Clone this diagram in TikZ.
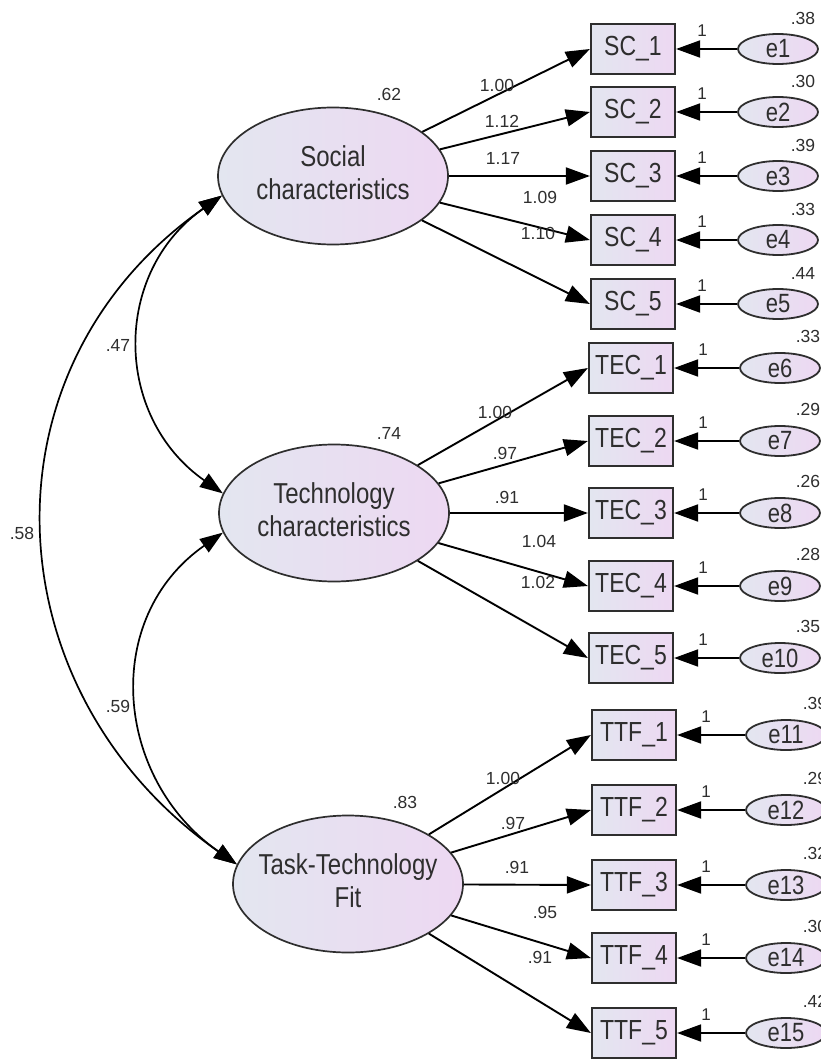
\documentclass[tikz,border=0pt]{standalone}
\usepackage{fontspec}
\setmainfont{Liberation Sans}
\usetikzlibrary{arrows.meta, shapes.geometric}
\definecolor{ink}{HTML}{2E2E2E}
\definecolor{lavL}{HTML}{E3E6F0}
\definecolor{lavR}{HTML}{EDD8F2}
\tikzset{
  latent/.style={ellipse, draw=ink, line width=1.7pt, left color=lavL, right color=lavR, minimum width=230pt, minimum height=137pt, inner xsep=-30pt, inner ysep=0pt, font=\fontsize{24}{29}\selectfont, text=ink},
  indbox/.style={rectangle, draw=ink, line width=2.2pt, left color=lavL, right color=lavR, minimum width=84pt, minimum height=50pt, inner sep=0pt, font=\fontsize{23}{25}\selectfont, text=ink},
  err/.style={ellipse, draw=ink, line width=1.8pt, left color=lavL, right color=lavR, minimum width=80pt, minimum height=30pt, inner sep=0pt, font=\fontsize{22}{24}\selectfont, text=ink},
  est/.style={font=\fontsize{17.5}{19}\selectfont, text=ink, inner sep=0pt},
  onelab/.style={font=\fontsize{17}{18}\selectfont, text=ink, inner sep=0pt},
  load/.style={draw=black, line width=1.9pt, -{Triangle[length=24pt,width=17pt]}},
  cov/.style={draw=black, line width=1.7pt, {Triangle[length=23pt,width=16pt]}-{Triangle[length=23pt,width=16pt]}, looseness=1.15}
}
\newcommand{\tall}[1]{\scalebox{1}[1.2]{#1}}
\newcommand{\twoline}[2]{\tall{\begin{tabular}{@{}c@{}}#1\\[-1pt]#2\end{tabular}}}

\begin{document}
\begin{tikzpicture}[x=1pt,y=-1pt]
\useasboundingbox (0,0) rectangle (821,1062);
\clip (0,0) rectangle (821,1062);

% latent factors
\node[latent] (sc) at (333,176) {\twoline{Social}{characteristics}};
\node[latent] (tec) at (334,513) {\twoline{Technology}{characteristics}};
\node[latent] (ttf) at (348,884) {\twoline{Task-Technology}{Fit}};

\node[est] (vsc) at (389,94) {.62};
\node[est] (vtec) at (389,433) {.74};
\node[est] (vttf) at (405,802) {.83};

% indicators
\node[indbox] (sc1) at (633,49) {\tall{SC\_1}};
\node[indbox] (sc2) at (633,112) {\tall{SC\_2}};
\node[indbox] (sc3) at (633,176) {\tall{SC\_3}};
\node[indbox] (sc4) at (633,240) {\tall{SC\_4}};
\node[indbox] (sc5) at (633,304) {\tall{SC\_5}};
\node[indbox] (tec1) at (631,368) {\tall{TEC\_1}};
\node[indbox] (tec2) at (631,441) {\tall{TEC\_2}};
\node[indbox] (tec3) at (631,513) {\tall{TEC\_3}};
\node[indbox] (tec4) at (631,586) {\tall{TEC\_4}};
\node[indbox] (tec5) at (631,658) {\tall{TEC\_5}};
\node[indbox] (ttf1) at (634,735) {\tall{TTF\_1}};
\node[indbox] (ttf2) at (634,810) {\tall{TTF\_2}};
\node[indbox] (ttf3) at (634,885) {\tall{TTF\_3}};
\node[indbox] (ttf4) at (634,958) {\tall{TTF\_4}};
\node[indbox] (ttf5) at (634,1033) {\tall{TTF\_5}};

% error terms
\node[err] (e1) at (778,49) {\tall{e1}};
\node[err] (e2) at (778,112) {\tall{e2}};
\node[err] (e3) at (778,176) {\tall{e3}};
\node[err] (e4) at (778,240) {\tall{e4}};
\node[err] (e5) at (778,304) {\tall{e5}};
\node[err] (e6) at (780,368) {\tall{e6}};
\node[err] (e7) at (780,441) {\tall{e7}};
\node[err] (e8) at (780,513) {\tall{e8}};
\node[err] (e9) at (780,586) {\tall{e9}};
\node[err] (e10) at (780,658) {\tall{e10}};
\node[err] (e11) at (786,735) {\tall{e11}};
\node[err] (e12) at (786,810) {\tall{e12}};
\node[err] (e13) at (786,885) {\tall{e13}};
\node[err] (e14) at (786,958) {\tall{e14}};
\node[err] (e15) at (786,1033) {\tall{e15}};

\node[est] (v1) at (803,18) {.38};
\node[est] (v2) at (803,81) {.30};
\node[est] (v3) at (803,145) {.39};
\node[est] (v4) at (803,209) {.33};
\node[est] (v5) at (803,273) {.44};
\node[est] (v6) at (808,336) {.33};
\node[est] (v7) at (808,409) {.29};
\node[est] (v8) at (808,481) {.26};
\node[est] (v9) at (808,554) {.28};
\node[est] (v10) at (808,626) {.35};
\node[est] (v11) at (815,703) {.39};
\node[est] (v12) at (815,778) {.29};
\node[est] (v13) at (815,853) {.32};
\node[est] (v14) at (815,926) {.30};
\node[est] (v15) at (815,1001) {.42};

% loadings
\draw[load] (sc) -- (sc1.west);
\draw[load] (sc) -- (sc2.west);
\draw[load] (sc) -- (sc3.west);
\draw[load] (sc) -- (sc4.west);
\draw[load] (sc) -- (sc5.west);
\draw[load] (tec) -- (tec1.west);
\draw[load] (tec) -- (tec2.west);
\draw[load] (tec) -- (tec3.west);
\draw[load] (tec) -- (tec4.west);
\draw[load] (tec) -- (tec5.west);
\draw[load] (ttf) -- (ttf1.west);
\draw[load] (ttf) -- (ttf2.west);
\draw[load] (ttf) -- (ttf3.west);
\draw[load] (ttf) -- (ttf4.west);
\draw[load] (ttf) -- (ttf5.west);

\node[est] (l1) at (497,85) {1.00};
\node[est] (l2) at (502,121) {1.12};
\node[est] (l3) at (503,158) {1.17};
\node[est] (l4) at (540,197) {1.09};
\node[est] (l5) at (538,233) {1.10};
\node[est] (l6) at (495,412) {1.00};
\node[est] (l7) at (505,453) {.97};
\node[est] (l8) at (507,497) {.91};
\node[est] (l9) at (539,541) {1.04};
\node[est] (l10) at (538,582) {1.02};
\node[est] (l11) at (503,778) {1.00};
\node[est] (l12) at (513,823) {.97};
\node[est] (l13) at (517,867) {.91};
\node[est] (l14) at (545,912) {.95};
\node[est] (l15) at (540,957) {.91};

% error paths, fixed to 1
\draw[load] (e1) -- (sc1);
\draw[load] (e2) -- (sc2);
\draw[load] (e3) -- (sc3);
\draw[load] (e4) -- (sc4);
\draw[load] (e5) -- (sc5);
\draw[load] (e6) -- (tec1);
\draw[load] (e7) -- (tec2);
\draw[load] (e8) -- (tec3);
\draw[load] (e9) -- (tec4);
\draw[load] (e10) -- (tec5);
\draw[load] (e11) -- (ttf1);
\draw[load] (e12) -- (ttf2);
\draw[load] (e13) -- (ttf3);
\draw[load] (e14) -- (ttf4);
\draw[load] (e15) -- (ttf5);

\node[onelab] (f1) at (702,31) {1};
\node[onelab] (f2) at (702,94) {1};
\node[onelab] (f3) at (702,158) {1};
\node[onelab] (f4) at (702,222) {1};
\node[onelab] (f5) at (702,286) {1};
\node[onelab] (f6) at (703,350) {1};
\node[onelab] (f7) at (703,423) {1};
\node[onelab] (f8) at (703,495) {1};
\node[onelab] (f9) at (703,568) {1};
\node[onelab] (f10) at (703,640) {1};
\node[onelab] (f11) at (706,717) {1};
\node[onelab] (f12) at (706,792) {1};
\node[onelab] (f13) at (706,867) {1};
\node[onelab] (f14) at (706,940) {1};
\node[onelab] (f15) at (706,1015) {1};

% covariances
\draw[cov] (sc.190) to[out=215, in=145] (tec.170);
\draw[cov] (tec.190) to[out=215, in=145] (ttf.170);
\draw[cov] (sc.190) to[out=215, in=145] (ttf.170);

\node[est] (c1) at (118,345) {.47};
\node[est] (c2) at (118,706) {.59};
\node[est] (c3) at (22,533) {.58};

\end{tikzpicture}
\end{document}
